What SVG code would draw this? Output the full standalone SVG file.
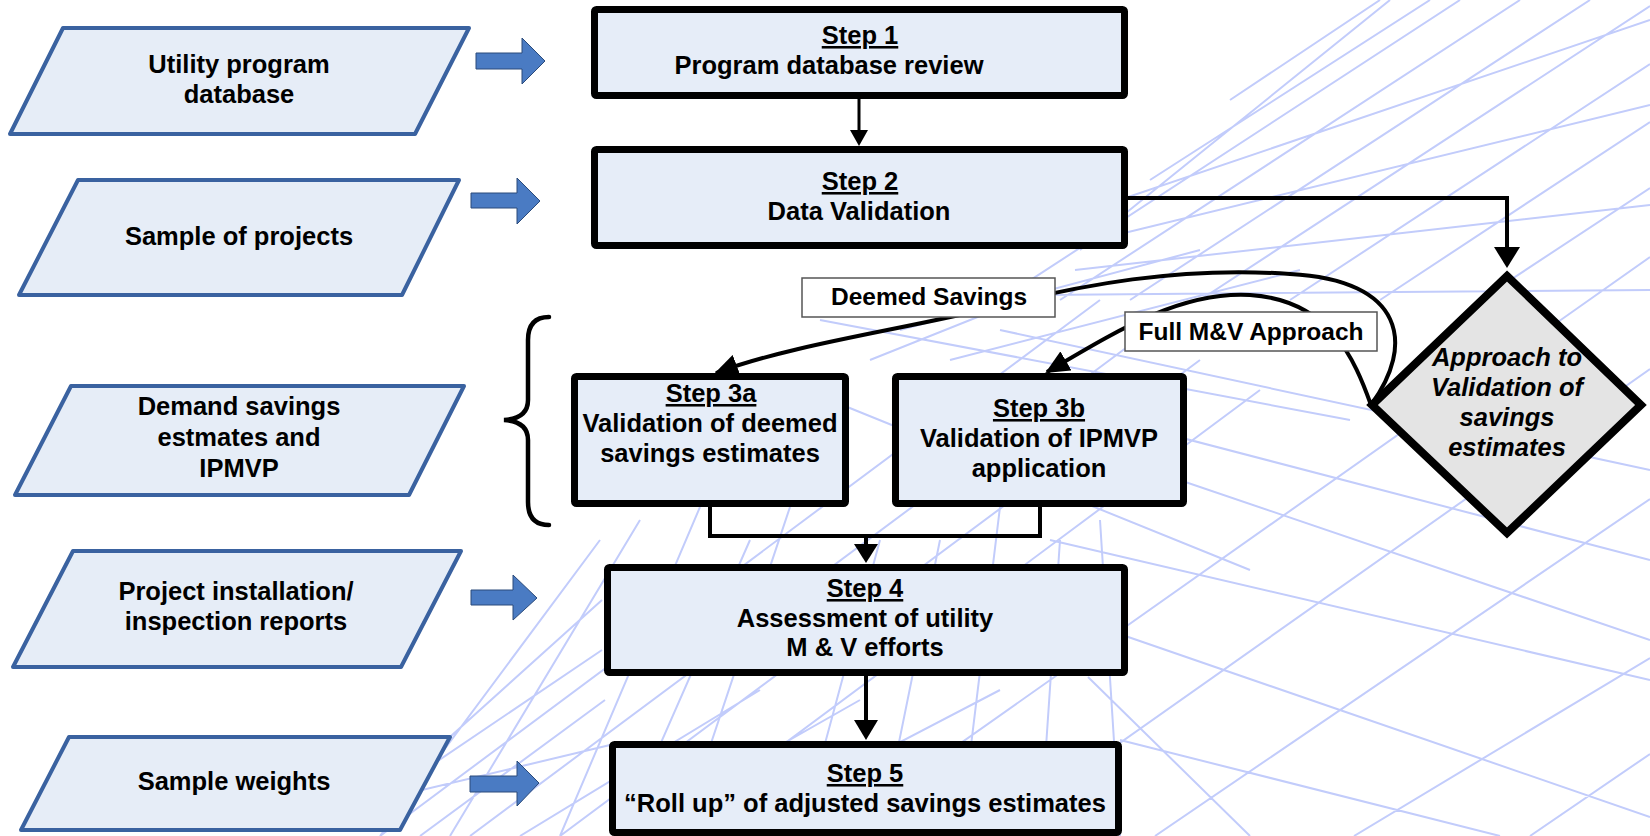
<svg xmlns="http://www.w3.org/2000/svg" width="1650" height="836" viewBox="0 0 1650 836">
<style>
  .mesh { fill: none; stroke: #c2ccfb; stroke-width: 2; }
  .para { fill: #e6edf7; stroke: #3a62a0; stroke-width: 4; stroke-linejoin: round; }
  .blk { fill: #4a7bc3; stroke: #2a4a7a; stroke-width: 1; }
  .step { fill: #e6edf8; stroke: #000; stroke-width: 7; }
  .dia { fill: #e4e4e4; stroke: #000; stroke-width: 8; stroke-linejoin: miter; }
  .lbl { fill: #fff; stroke: #555; stroke-width: 1.5; }
  .con { fill: none; stroke: #000; stroke-width: 4; }
  .head { fill: #000; stroke: none; }
  text { font-family: "Liberation Sans", Arial, sans-serif; font-weight: bold; font-size: 25.5px; fill: #000; text-anchor: middle; }
  .u { text-decoration: underline; }
  .it { font-style: italic; }
  .sm { font-size: 24.5px; }
</style>
<defs>
  <marker id="ah" markerUnits="userSpaceOnUse" markerWidth="24" markerHeight="22" refX="22" refY="11" orient="auto">
    <path d="M0,0 L24,11 L0,22 z" fill="#000"/>
  </marker>
</defs>
<rect x="0" y="0" width="1650" height="836" fill="#fff"/>
<g id="background">
  <path class="mesh" d="
    M1000,300 L1460,0 M1060,300 L1520,0 M1130,300 L1590,0 M1200,300 L1650,6
    M1290,300 L1650,64 M1380,300 L1650,122 M1480,300 L1650,188
    M1080,250 L1390,0 M1150,180 L1430,0 M1230,100 L1380,0
    M1075,215 L1650,20 M1075,245 L1650,105 M1075,270 L1650,205 M1040,295 L1650,290
    M380,836 L1100,300 M470,836 L1150,330 M560,836 L1200,360 M660,836 L1260,390
    M829,836 L1650,257 M988,836 L1650,369 M1155,836 L1650,499 M1354,836 L1650,658 M1530,836 L1650,754
    M1000,330 L1650,470 M960,380 L1650,560 M1050,540 L1650,680 M1050,610 L1650,817 M1088,677 L1250,836
    M1150,470 L1650,640 M820,320 L1350,420 M830,400 L1250,570 M1120,740 L1500,836
    M700,507 L560,836 M790,507 L680,836 M880,540 L800,836 M1000,507 L960,836 M1100,520 L1120,836
    M640,520 L450,836 M600,540 L380,836 M750,540 L620,836 M940,540 L880,836 M1060,540 L1040,836
    M380,800 L602,600 M380,800 L602,650 M380,800 L610,745 M420,836 L605,700
    M520,836 L760,690 M620,836 L860,700 M720,836 L1000,690
    M900,330 L1200,250 M950,360 L1300,270 M870,360 L1020,300
  "/>
</g>
<g id="connectors">
  <line class="con" x1="859" y1="99" x2="859" y2="131" style="stroke-width:3"/>
  <polygon class="head" points="850,130 868,130 859,146"/>
  <polyline class="con" points="1128,198 1507,198 1507,248"/>
  <polygon class="head" points="1494,247 1520,247 1507,268"/>
  <path class="con" d="M1371,405 C1415,345 1405,280 1290,274 C1180,266 1080,285 990,308 C900,330 790,345 716,373" marker-end="url(#ah)"/>
  <path class="con" d="M1371,405 C1355,360 1330,300 1250,295 C1180,291 1115,332 1047,372" marker-end="url(#ah)"/>
  <path class="con" d="M710,507 V536 H1040 V507"/>
  <line class="con" x1="866" y1="536" x2="866" y2="545"/>
  <polygon class="head" points="854,544 878,544 866,563"/>
  <line class="con" x1="866" y1="676" x2="866" y2="721"/>
  <polygon class="head" points="854,720 878,720 866,740"/>
  <path d="M549,317 C535,317 528,325 528,340 L528,400 C528,412 520,419 504,420 C520,421 528,428 528,440 L528,502 C528,517 535,525 549,525" fill="none" stroke="#000" stroke-width="4.5" stroke-linecap="round"/>
</g>
<g id="label-deemed">
  <rect class="lbl" x="802" y="278" width="253" height="39"/>
  <text class="sm" x="929" y="305">Deemed Savings</text>
</g>
<g id="label-fullmv">
  <rect class="lbl" x="1125" y="312" width="252" height="39"/>
  <text class="sm" x="1251" y="340">Full M&amp;V Approach</text>
</g>
<g id="in1">
  <polygon class="para" points="63,28 469,28 415,134 10,134"/>
  <text x="239" y="73">Utility program</text>
  <text x="239" y="103">database</text>
</g>
<g id="in2">
  <polygon class="para" points="78,180 459,180 402,295 19,295"/>
  <text x="239" y="245">Sample of projects</text>
</g>
<g id="in3">
  <polygon class="para" points="71,386 464,386 409,495 15,495"/>
  <text x="239" y="415">Demand savings</text>
  <text x="239" y="446">estmates and</text>
  <text x="239" y="477">IPMVP</text>
</g>
<g id="in4">
  <polygon class="para" points="73,551 461,551 401,667 13,667"/>
  <text x="236" y="600">Project installation/</text>
  <text x="236" y="630">inspection reports</text>
</g>
<g id="in5">
  <polygon class="para" points="69,737 450,737 400,830 21,830"/>
  <text x="234" y="790">Sample weights</text>
</g>
<g id="arrows-in">
  <polygon class="blk" points="476,53 522,53 522,38 545,61 522,84 522,69 476,69"/>
  <polygon class="blk" points="471,193 517,193 517,178 540,201 517,224 517,208 471,208"/>
  <polygon class="blk" points="471,590 513,590 513,575 537,598 513,620 513,605 471,605"/>
  <polygon class="blk" points="470,776 517,776 517,761 539,783 517,806 517,792 470,792"/>
</g>
<g id="step1">
  <rect class="step" x="594.5" y="9.5" width="530" height="86" rx="2"/>
  <text class="u" x="860" y="44">Step 1</text>
  <text x="829" y="74">Program database review</text>
</g>
<g id="step2">
  <rect class="step" x="594.5" y="149.5" width="530" height="96" rx="2"/>
  <text class="u" x="860" y="190">Step 2</text>
  <text x="859" y="220">Data Validation</text>
</g>
<g id="step3a">
  <rect class="step" x="574.5" y="376.5" width="271" height="127" rx="2"/>
  <text class="u" x="711" y="402">Step 3a</text>
  <text x="710" y="432">Validation of deemed</text>
  <text x="710" y="462">savings estimates</text>
</g>
<g id="step3b">
  <rect class="step" x="895.5" y="376.5" width="288" height="127" rx="2"/>
  <text class="u" x="1039" y="417">Step 3b</text>
  <text x="1039" y="447">Validation of IPMVP</text>
  <text x="1039" y="477">application</text>
</g>
<g id="decision">
  <polygon class="dia" points="1507,276 1641,405 1507,533 1372,405"/>
  <text class="it" x="1507" y="366">Approach to</text>
  <text class="it" x="1507" y="396">Validation of</text>
  <text class="it" x="1507" y="426">savings</text>
  <text class="it" x="1507" y="456">estimates</text>
</g>
<g id="step4">
  <rect class="step" x="607.5" y="567.5" width="517" height="105" rx="2"/>
  <text class="u" x="865" y="597">Step 4</text>
  <text x="865" y="627">Assessment of utility</text>
  <text x="865" y="656">M &amp; V efforts</text>
</g>
<g id="step5">
  <rect class="step" x="612.5" y="744.5" width="506" height="88" rx="2"/>
  <text class="u" x="865" y="782">Step 5</text>
  <text x="865" y="812">“Roll up” of adjusted savings estimates</text>
</g>
</svg>
